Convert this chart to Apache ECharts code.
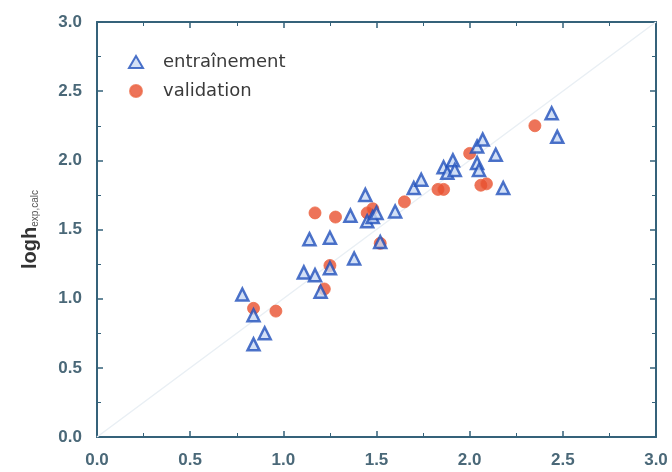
<!DOCTYPE html>
<html>
<head>
    <meta charset="utf-8">
    <title>logh scatter</title>
    <style type="text/css">
        body {
            margin: 0;
            background: #fff;
        }
        html, body, #main {
            width: 672px;
            height: 472px;
        }
    </style>
</head>
<body>

    <div id="main"></div>
    <script src="https://cdn.jsdelivr.net/npm/echarts@6/dist/echarts.min.js"></script>

    <script>
        // [x, y] pairs
        var entrainement = [
            [0.78, 1.03], [0.84, 0.88], [0.90, 0.75], [0.84, 0.67],
            [1.11, 1.19], [1.17, 1.17], [1.20, 1.05], [1.25, 1.22],
            [1.14, 1.43], [1.25, 1.44], [1.38, 1.29], [1.36, 1.60],
            [1.44, 1.75], [1.45, 1.56], [1.48, 1.59], [1.50, 1.62], [1.52, 1.41], [1.60, 1.63],
            [1.70, 1.80], [1.74, 1.86], [1.86, 1.95], [1.88, 1.91], [1.91, 2.00], [1.92, 1.93],
            [2.04, 2.10], [2.07, 2.15], [2.04, 1.98], [2.05, 1.93], [2.14, 2.04], [2.18, 1.80],
            [2.44, 2.34], [2.47, 2.17]
        ];
        var validation = [
            [0.84, 0.93], [0.96, 0.91], [1.22, 1.07], [1.25, 1.24], [1.17, 1.62], [1.28, 1.59],
            [1.45, 1.62], [1.48, 1.65], [1.52, 1.40], [1.65, 1.70], [1.83, 1.79], [1.86, 1.79],
            [2.00, 2.05], [2.06, 1.82], [2.09, 1.83], [2.35, 2.25]
        ];
        var diagonal = [[0, 0], [3, 3]];

        var axisColor = '#35627a';
        var labelFont = {
            color: '#4a6878',
            fontSize: 17,
            fontWeight: 'bold',
            fontFamily: 'Liberation Sans'
        };

        function makeAxis(pos, showLabels, extra) {
            var a = {
                type: 'value',
                position: pos,
                min: 0,
                max: 3,
                interval: 0.5,
                axisLine: { show: true, onZero: false, lineStyle: { color: axisColor, width: 2 } },
                axisTick: { show: true, inside: true, length: 6, lineStyle: { color: axisColor, width: 1.5 } },
                minorTick: { show: true, splitNumber: 2, length: 4, lineStyle: { color: axisColor, width: 1 } },
                splitLine: { show: false },
                axisLabel: showLabels ? Object.assign({ margin: 15, formatter: function (v) { return v.toFixed(1); } }, labelFont) : { show: false }
            };
            return Object.assign(a, extra || {});
        }

        var chart = echarts.init(document.getElementById('main'));

        chart.setOption({
            animation: false,
            grid: {
                left: 97,
                right: 16,
                top: 22,
                bottom: 35
            },
            legend: {
                left: 123,
                top: 48,
                orient: 'vertical',
                itemGap: 11,
                itemWidth: 14,
                itemHeight: 12,
                textStyle: { fontSize: 18, color: '#3a3a3a', fontFamily: 'DejaVu Sans', padding: [0, 0, 0, 15] },
                data: ['entraînement', 'validation']
            },
            xAxis: [
                makeAxis('bottom', true),
                makeAxis('top', false)
            ],
            yAxis: [
                makeAxis('left', true, {
                    name: '{a|logh}{b|exp,calc}',
                    nameLocation: 'middle',
                    nameGap: 57,
                    nameRotate: 90,
                    nameTextStyle: {
                        rich: {
                            a: { fontSize: 20, color: '#333', fontFamily: 'Liberation Sans', fontWeight: 'bold' },
                            b: { fontSize: 10, color: '#555', fontFamily: 'Liberation Sans', padding: [10, 0, 0, 0] }
                        }
                    }
                }),
                makeAxis('right', false)
            ],
            series: [
                {
                    name: 'diagonale',
                    type: 'line',
                    data: diagonal,
                    symbol: 'none',
                    silent: true,
                    lineStyle: { color: '#e9eff4', width: 1.5 },
                    z: 1
                },
                {
                    name: 'entraînement',
                    type: 'scatter',
                    data: entrainement,
                    symbol: 'triangle',
                    symbolSize: 12,
                    itemStyle: { color: '#c8d8f4', borderColor: '#2050bc', borderWidth: 2.5 },
                    z: 3
                },
                {
                    name: 'validation',
                    type: 'scatter',
                    data: validation,
                    symbol: 'circle',
                    symbolSize: 12,
                    itemStyle: { color: '#e9502f', borderColor: '#ec6a48', borderWidth: 1 },
                    z: 2
                }
            ]
        });
    </script>
</body>
</html>
